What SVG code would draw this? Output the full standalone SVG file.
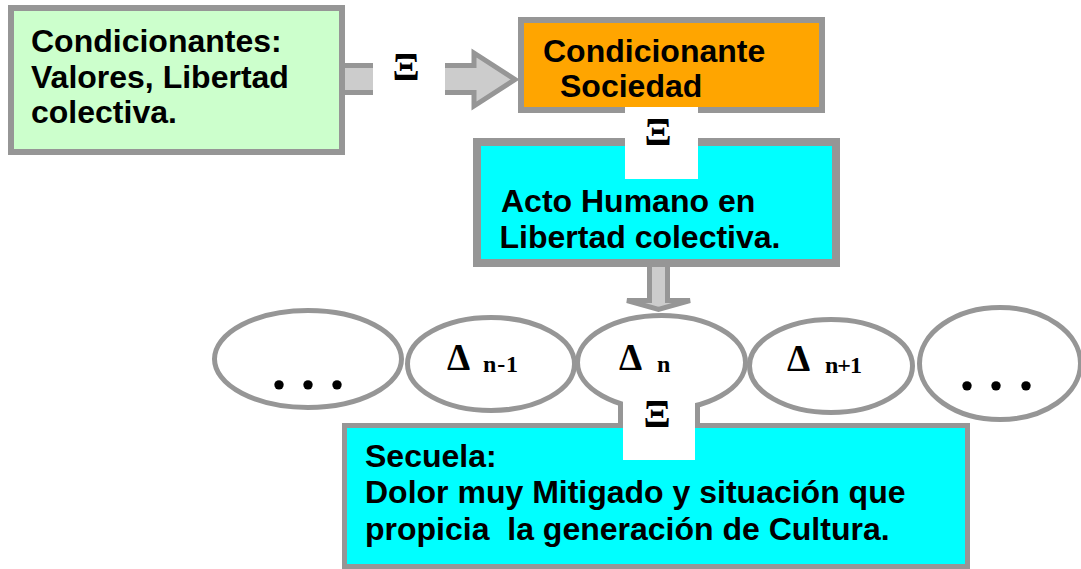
<svg xmlns="http://www.w3.org/2000/svg" width="1081" height="569" viewBox="0 0 1081 569">
<style>
.box{stroke:#969696}
.t{font-family:"Liberation Sans",Arial,sans-serif;font-weight:bold;font-size:32px;fill:#000;white-space:pre}
.sym{font-family:"Liberation Serif","Times New Roman",serif;font-weight:bold;fill:#000}
.ell{fill:#fff;stroke:#969696;stroke-width:5}
.arrow{fill:#cccccc;stroke:#969696;stroke-width:5;stroke-linejoin:miter}
.cover{fill:#fff}
.xi{font-size:40px;text-anchor:middle}
.big{font-size:37px}
.sub{font-size:24px}
.dots{font-size:58px}
</style>
<rect width="1081" height="569" fill="#fff"/>
<g id="connectors">
  <polygon class="arrow" points="340,65.5 474,65.5 474,53 515,79.5 474,106 474,92.5 340,92.5"/>
  <polygon class="arrow" points="649.5,262 667.5,262 667.5,300.5 690,300.5 658.5,309.5 627,300.5 649.5,300.5"/>
</g>
<g id="n-condicionantes">
  <rect class="box" x="11" y="8" width="331" height="144" fill="#ccffcc" stroke-width="6"/>
  <text class="t" x="31" y="52">Condicionantes:</text>
  <text class="t" x="31" y="88">Valores, Libertad</text>
  <text class="t" x="31" y="123">colectiva.</text>
</g>
<g id="n-sociedad">
  <rect class="box" x="521" y="20" width="301" height="90" fill="#ffa500" stroke-width="6"/>
  <text class="t" x="543" y="62">Condicionante</text>
  <text class="t" x="560" y="97">Sociedad</text>
</g>
<g id="n-acto">
  <rect class="box" x="477" y="142" width="359" height="121" fill="#00ffff" stroke-width="8"/>
  <text class="t" x="501" y="212">Acto Humano en</text>
  <text class="t" x="499.5" y="248">Libertad colectiva.</text>
</g>
<g id="n-e1">
  <ellipse class="ell" cx="308" cy="359" rx="93.5" ry="48.5"/>
  <text class="sym dots" x="271.75 286 300.75 315 329.75" y="389">. . .</text>
</g>
<g id="n-e2">
  <ellipse class="ell" cx="491" cy="364" rx="83.5" ry="46.5"/>
  <text class="sym"><tspan class="big" x="447" y="370">Δ</tspan><tspan class="sub" x="483" y="372" textLength="35">n-1</tspan></text>
</g>
<g id="n-e3">
  <ellipse class="ell" cx="661.5" cy="362.5" rx="84" ry="47"/>
  <text class="sym"><tspan class="big" x="619" y="370">Δ</tspan><tspan class="sub" x="657" y="372">n</tspan></text>
</g>
<g id="n-e4">
  <ellipse class="ell" cx="831" cy="366" rx="81.5" ry="46.5"/>
  <text class="sym"><tspan class="big" x="787" y="371">Δ</tspan><tspan class="sub" x="825" y="373" textLength="37">n+1</tspan></text>
</g>
<g id="n-e5">
  <ellipse class="ell" cx="1000" cy="363.5" rx="80.5" ry="56"/>
  <text class="sym dots" x="959.75 974 988.75 1003 1018.75" y="390">. . .</text>
</g>
<g id="n-secuela">
  <rect class="box" x="344.5" y="425.5" width="623" height="141" fill="#00ffff" stroke-width="5"/>
  <text class="t" x="365" y="467">Secuela:</text>
  <text class="t" x="365" y="503">Dolor muy Mitigado y situación que</text>
  <text class="t" x="365" y="540">propicia  la generación de Cultura.</text>
</g>
<g id="connector-labels">
  <rect class="cover" x="373" y="45" width="72" height="68"/>
  <text class="sym xi" x="406" y="80">Ξ</text>
  <rect class="cover" x="625" y="107" width="73" height="72"/>
  <text class="sym xi" x="658" y="145">Ξ</text>
  <line x1="620.5" y1="402" x2="620.5" y2="427" stroke="#969696" stroke-width="5"/>
  <line x1="697.5" y1="404" x2="697.5" y2="427" stroke="#969696" stroke-width="5"/>
  <rect class="cover" x="623" y="395" width="72" height="65"/>
  <text class="sym xi" x="657" y="427">Ξ</text>
</g>
</svg>
